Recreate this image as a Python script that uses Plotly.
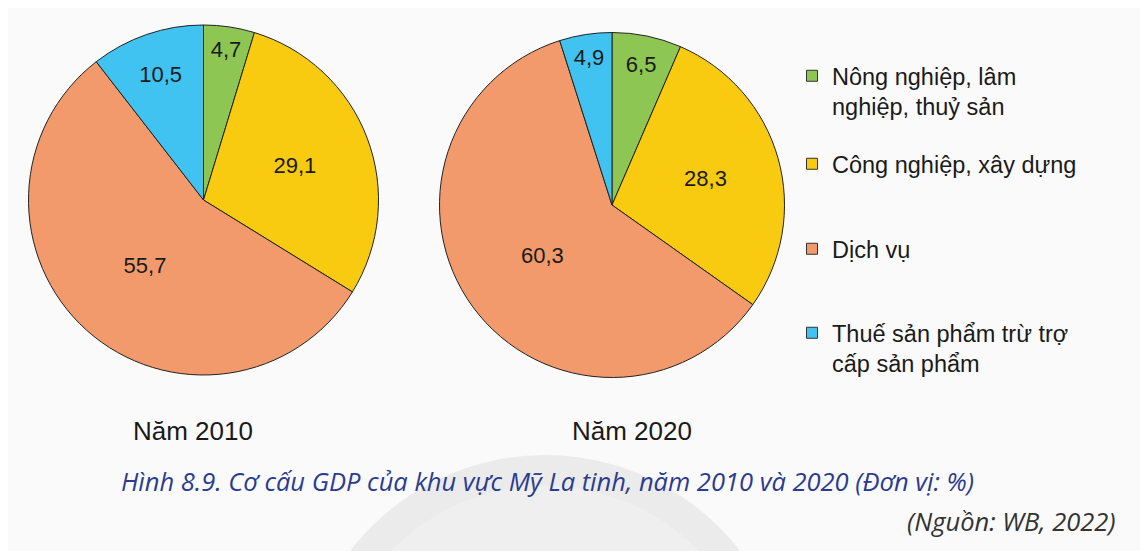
import plotly.graph_objects as go

categories = ["Nông nghiệp, lâm<br>nghiệp, thuỷ sản", "Công nghiệp, xây dựng", "Dịch vụ",
              "Thuế sản phẩm trừ trợ<br>cấp sản phẩm"]
values_2010 = [4.7, 29.1, 55.7, 10.5]
values_2020 = [6.5, 28.3, 60.3, 4.9]
years = ["Năm 2010", "Năm 2020"]
colors = ["#8DC652", "#F9CB10", "#F29A6C", "#40C3F0"]

W, H = 1148, 551
OFF = 8  # page body margin offset
ARIAL = "Liberation Sans, Arial, sans-serif"

def px(x):
    return (x - OFF) / W

def py(y):
    return 1 - (y - OFF) / H

def dom(cx, cy, r):
    return dict(x=[px(cx - r), px(cx + r)], y=[py(cy + r), py(cy - r)])

fig = go.Figure()

for vals, d in [(values_2010, dom(203.5, 200, 175)), (values_2020, dom(612, 205, 172.5))]:
    fig.add_trace(go.Pie(
        labels=categories, values=vals, sort=False, direction="clockwise", rotation=0,
        marker=dict(colors=colors, line=dict(color="#222222", width=1)),
        textinfo="value", texttemplate="%{value:.1f}", textposition="inside",
        insidetextorientation="horizontal",
        textfont=dict(family=ARIAL, size=22, color="#1a1a1a"),
        domain=d, showlegend=False, hoverinfo="label+value"))

legend_names = ["legend", "legend2", "legend3", "legend4"]
legend_rows = [75, 163, 248, 332]  # first-line centres (page px)
for cat, col, lg in zip(categories, colors, legend_names):
    fig.add_trace(go.Scatter(
        x=[None], y=[None], mode="markers", name=cat, legend=lg,
        marker=dict(symbol="square", size=11, color=col, line=dict(color="#333333", width=1)),
        showlegend=True))

layout_legends = {}
for lg, row in zip(legend_names, legend_rows):
    layout_legends[lg] = dict(
        x=px(792), y=py(row - 21), xanchor="left", yanchor="top", valign="top",
        bgcolor="rgba(0,0,0,0)", itemclick=False, itemdoubleclick=False,
        font=dict(family=ARIAL, size=23.5, color="#1a1a1a"))

fig.update_layout(
    width=W, height=H, margin=dict(l=0, r=0, t=0, b=0),
    paper_bgcolor="#FAFAFA", plot_bgcolor="rgba(0,0,0,0)",
    separators=", ",
    xaxis=dict(visible=False), yaxis=dict(visible=False),
    uniformtext=dict(minsize=22, mode="show"),
    shapes=[dict(type="circle", xref="paper", yref="paper", layer="below",
                 x0=px(545 - 246), x1=px(545 + 246), y0=py(701 + 246), y1=py(455),
                 fillcolor="#EBEBEB", line=dict(width=0)),
            dict(type="circle", xref="paper", yref="paper", layer="below",
                 x0=px(545 - 215), x1=px(545 + 215), y0=py(701 + 215), y1=py(486),
                 fillcolor="#EFEFEF", line=dict(width=0))],
    annotations=[
        dict(text=years[0], x=px(193), y=py(431), xref="paper", yref="paper", showarrow=False,
             xanchor="center", yanchor="middle",
             font=dict(family=ARIAL, size=26, color="#1a1a1a")),
        dict(text=years[1], x=px(632), y=py(431), xref="paper", yref="paper", showarrow=False,
             xanchor="center", yanchor="middle",
             font=dict(family=ARIAL, size=26, color="#1a1a1a")),
        dict(text="<i>Hình 8.9. Cơ cấu GDP của khu vực Mỹ La tinh, năm 2010 và 2020 (Đơn vị: %)</i>",
             x=px(547.5), y=py(481), xref="paper", yref="paper", showarrow=False,
             xanchor="center", yanchor="middle",
             font=dict(family="Open Sans, sans-serif", size=25.5, color="#2B3C8E")),
        dict(text="<i>(Nguồn: WB, 2022)</i>", x=px(1118), y=py(521), xref="paper", yref="paper",
             xanchor="right", yanchor="middle", showarrow=False,
             font=dict(family="Open Sans, sans-serif", size=25.5, color="#333333")),
    ],
    **layout_legends,
)

fig.write_html("out.html")
